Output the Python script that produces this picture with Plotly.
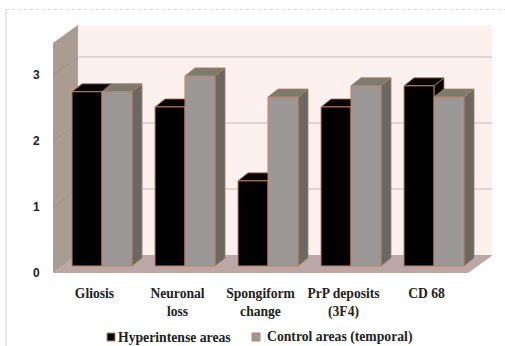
import numpy as np
import plotly.graph_objects as go

categories = ["Gliosis", "Neuronal<br>loss", "Spongiform<br>change", "PrP deposits<br>(3F4)", "CD 68"]
series_names = ["Hyperintense areas", "Control areas (temporal)"]
hyperintense = [2.64, 2.41, 1.29, 2.41, 2.73]
control = [2.64, 2.88, 2.56, 2.73, 2.56]
y_ticks = [0, 1, 2, 3]

W, H = 505, 346
L, R, T, B = 53, 13, 25, 73
CAT_PX = 83.0
Y_PX = 66.0
x_max = (W - L - R) / CAT_PX
y_max = (H - T - B) / Y_PX
n = len(categories)

# depth of the box and of the bars, in axis units
box_dx, box_dy = 25 / CAT_PX, 18 / Y_PX
bar_off_x, bar_off_y = 7.5 / CAT_PX, 7 / Y_PX
bar_dx, bar_dy = 10 / CAT_PX, 8 / Y_PX
bar_w = 30 / CAT_PX
wall_top = y_max - box_dy


def px(x):
    return (x - L) / (W - L - R)


def py(y):
    return 1 - (y - T) / (H - T - B)


def poly(pts, fill, line="rgba(0,0,0,0)", lw=0):
    path = "M" + "L".join(f"{x:.4f},{y:.4f}" for x, y in pts) + "Z"
    return dict(type="path", path=path, xref="x", yref="y", layer="below",
                fillcolor=fill, line=dict(color=line, width=lw))


shapes = [
    poly([(box_dx, box_dy), (n + box_dx, box_dy), (n + box_dx, y_max), (box_dx, y_max)], "#fdf1ef"),
    poly([(0, 0), (box_dx, box_dy), (box_dx, y_max), (0, wall_top)], "#a99c92"),
    poly([(0, 0), (n, 0), (n + box_dx, box_dy), (box_dx, box_dy)], "#bba7a5"),
]
for v in y_ticks[1:]:
    shapes.append(dict(type="line", xref="x", yref="y", layer="below",
                       x0=box_dx, x1=n + box_dx, y0=v + box_dy, y1=v + box_dy,
                       line=dict(color="#c9b8b4", width=1.2)))
    shapes.append(dict(type="line", xref="x", yref="y", layer="below",
                       x0=0, x1=box_dx, y0=v, y1=v + box_dy,
                       line=dict(color="#9e9187", width=0.6)))


def faces(values, left_edges, top_col, side_col):
    out = []
    for v, x0 in zip(values, left_edges):
        x1 = x0 + bar_w
        base, top = bar_off_y, bar_off_y + v
        out.append(poly([(x1, base), (x1 + bar_dx, base + bar_dy), (x1 + bar_dx, top + bar_dy), (x1, top)],
                        side_col, "#b07a58", 0.8))
        out.append(poly([(x0, top), (x1, top), (x1 + bar_dx, top + bar_dy), (x0 + bar_dx, top + bar_dy)],
                        top_col, "#b07a58", 0.8))
    return out


idx = np.arange(n)
cx = idx + 0.5 + bar_off_x
shapes += faces(hyperintense, cx - bar_w, "#0a0505", "#050202")
shapes += faces(control, cx, "#7d7a6e", "#6a6862")

# faint frame of the original chart area
shapes.append(dict(type="line", xref="paper", yref="paper", x0=px(6), x1=px(6), y0=py(10), y1=py(346),
                   line=dict(color="#d0d0d6", width=1)))
shapes.append(dict(type="line", xref="paper", yref="paper", x0=px(6), x1=px(505), y0=py(9.5), y1=py(9.5),
                   line=dict(color="#d8d8d8", width=1, dash="dot")))

FRONT = ["#030202", "#9b9897"]
EDGE = "#c08060"
TEXT = "#222222"

# legend keys and labels
annotations = []
for name, col, sw_x, txt_x in zip(series_names, FRONT, [107, 252], [116, 265]):
    shapes.append(dict(type="rect", xref="paper", yref="paper",
                       x0=px(sw_x), x1=px(sw_x + 8), y0=py(341), y1=py(333),
                       fillcolor=col, line=dict(color=EDGE, width=1)))
    annotations.append(dict(xref="paper", yref="paper", x=px(txt_x), y=py(337), text=name,
                            xanchor="left", yanchor="middle", showarrow=False,
                            font=dict(family="Liberation Serif", size=13.7, weight="bold", color=TEXT)))

fig = go.Figure()
fig.add_bar(x=cx - bar_w / 2, y=hyperintense, base=bar_off_y, width=bar_w, name=series_names[0],
            marker=dict(color=FRONT[0], line=dict(color=EDGE, width=1)))
fig.add_bar(x=cx + bar_w / 2, y=control, base=bar_off_y, width=bar_w, name=series_names[1],
            marker=dict(color=FRONT[1], line=dict(color=EDGE, width=1)))

fig.update_layout(
    width=W, height=H, autosize=False, barmode="overlay", showlegend=False,
    margin=dict(l=L, r=R, t=T, b=B, pad=0),
    paper_bgcolor="white", plot_bgcolor="white", shapes=shapes, annotations=annotations,
    font=dict(family="Liberation Serif", size=13, color=TEXT),
    xaxis=dict(range=[0, x_max], tickmode="array", tickvals=idx + 0.5, ticktext=categories,
               showgrid=False, zeroline=False, showline=False, ticks="outside", ticklen=8,
               tickcolor="rgba(0,0,0,0)", tickfont=dict(family="Liberation Serif", size=13.6, weight="bold"),
               tickangle=0, fixedrange=True),
    yaxis=dict(range=[0, y_max], tickmode="array", tickvals=y_ticks, ticktext=[str(t) for t in y_ticks],
               showgrid=False, zeroline=False, showline=False, ticks="outside", ticklen=10,
               tickcolor="rgba(0,0,0,0)", tickfont=dict(family="Liberation Sans", size=12, weight="bold"),
               fixedrange=True),
)
fig.write_html("out.html", config=dict(displayModeBar=False),
               post_script="document.body.style.margin='0';document.body.style.overflow='hidden';")
